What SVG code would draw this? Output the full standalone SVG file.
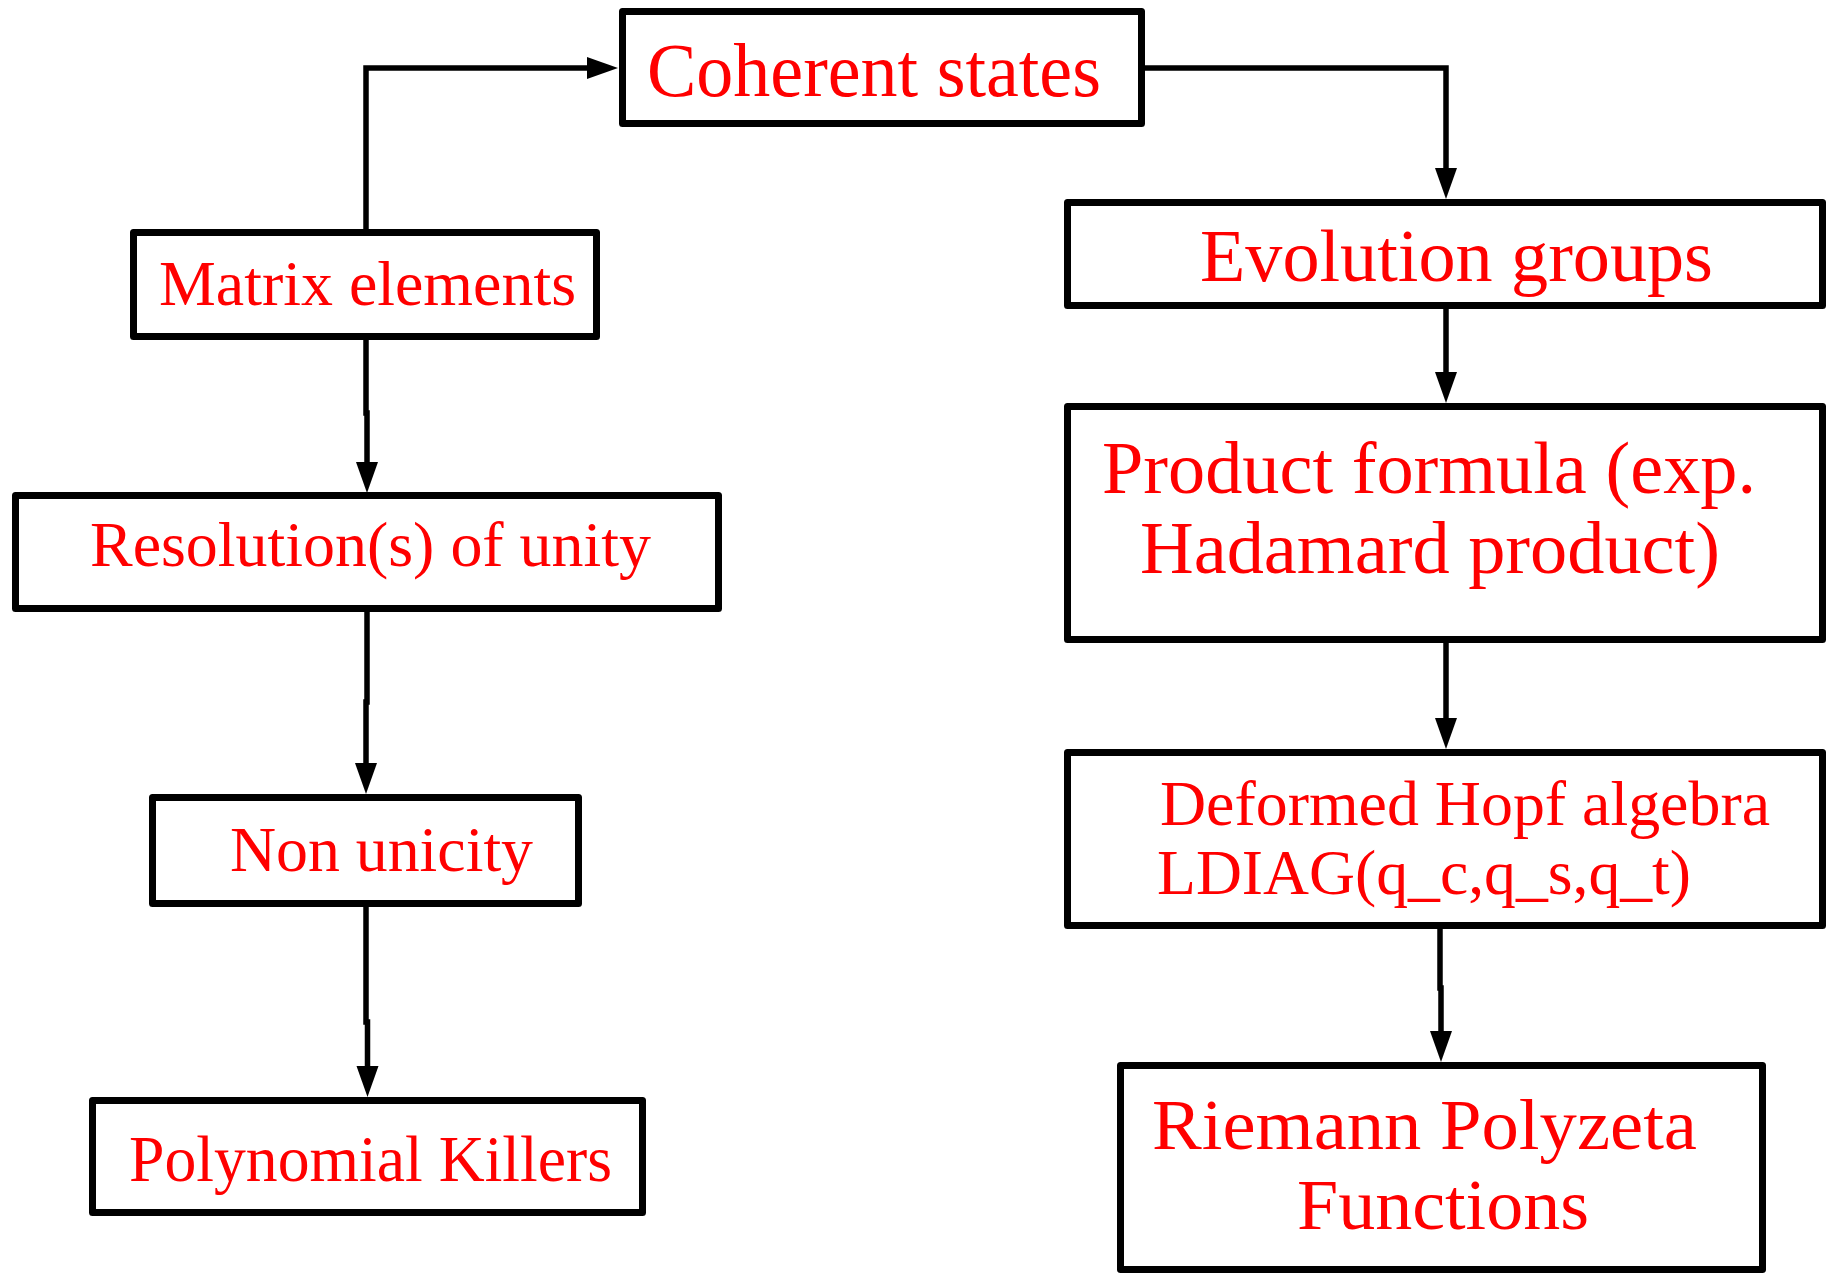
<svg xmlns="http://www.w3.org/2000/svg" width="1832" height="1273" viewBox="0 0 1832 1273">
<style>
.box{fill:#fff;stroke:#000;stroke-width:7;stroke-linejoin:round}
.lbl{fill:#ff0000;font-family:'Liberation Serif','Times New Roman',Times,serif;font-weight:normal}
.con{fill:none;stroke:#000;stroke-width:5.5;marker-end:url(#ah)}
</style>
<defs>
<marker id="ah" markerUnits="userSpaceOnUse" markerWidth="32" markerHeight="24" refX="0" refY="11" orient="auto" overflow="visible">
<path d="M0,0 L31,11 L0,22 z" fill="#000"/>
</marker>
</defs>
<rect width="1832" height="1273" fill="#fff"/>
<g id="connectors">
<path class="con" d="M366,229 V68 H587"/>
<path class="con" d="M1145,68 H1446 V168"/>
<path class="con" d="M1446,309 V372"/>
<path class="con" d="M1446,643 V718"/>
<path class="con" d="M1440,918 V988 H1441 V1031"/>
<path class="con" d="M366,340 V413 H367 V462"/>
<path class="con" d="M367,612 V702 H366 V763"/>
<path class="con" d="M366,907 V1022 H367.5 V1066"/>
</g>
<g id="coherent">
<rect class="box" x="622.5" y="11.5" width="519" height="112"/>
<text class="lbl" font-family="Liberation Serif" x="647" y="96" font-size="77" textLength="454" lengthAdjust="spacingAndGlyphs">Coherent states</text>
</g>
<g id="matrix">
<rect class="box" x="133.5" y="232.5" width="463" height="104"/>
<text class="lbl" font-family="Liberation Serif" x="159" y="305" font-size="64" textLength="417" lengthAdjust="spacingAndGlyphs">Matrix elements</text>
</g>
<g id="evolution">
<rect class="box" x="1067.5" y="202.5" width="755" height="103"/>
<text class="lbl" font-family="Liberation Serif" x="1200" y="281" font-size="75" textLength="513" lengthAdjust="spacingAndGlyphs">Evolution groups</text>
</g>
<g id="product">
<rect class="box" x="1067.5" y="406.5" width="755" height="233"/>
<text class="lbl" font-family="Liberation Serif" x="1102" y="493" font-size="73" textLength="654" lengthAdjust="spacingAndGlyphs">Product formula (exp.</text>
<text class="lbl" font-family="Liberation Serif" x="1140" y="573" font-size="73" textLength="580" lengthAdjust="spacingAndGlyphs">Hadamard product)</text>
</g>
<g id="deformed">
<rect class="box" x="1067.5" y="752.5" width="755" height="173"/>
<text class="lbl" font-family="Liberation Serif" x="1160" y="825" font-size="63" textLength="610" lengthAdjust="spacingAndGlyphs">Deformed Hopf algebra</text>
<text class="lbl" font-family="Liberation Serif" x="1157" y="894" font-size="63" textLength="534" lengthAdjust="spacingAndGlyphs">LDIAG(q_c,q_s,q_t)</text>
</g>
<g id="riemann">
<rect class="box" x="1120.5" y="1065.5" width="642" height="204"/>
<text class="lbl" font-family="Liberation Serif" x="1152" y="1149" font-size="71" textLength="545" lengthAdjust="spacingAndGlyphs">Riemann Polyzeta</text>
<text class="lbl" font-family="Liberation Serif" x="1297" y="1229" font-size="71" textLength="292" lengthAdjust="spacingAndGlyphs">Functions</text>
</g>
<g id="resolution">
<rect class="box" x="15.5" y="495.5" width="703" height="113"/>
<text class="lbl" font-family="Liberation Serif" x="90" y="566" font-size="63" textLength="561" lengthAdjust="spacingAndGlyphs">Resolution(s) of unity</text>
</g>
<g id="nonunicity">
<rect class="box" x="152.5" y="797.5" width="426" height="106"/>
<text class="lbl" font-family="Liberation Serif" x="230" y="871" font-size="64" textLength="303" lengthAdjust="spacingAndGlyphs">Non unicity</text>
</g>
<g id="polynomial">
<rect class="box" x="92.5" y="1100.5" width="550" height="112"/>
<text class="lbl" font-family="Liberation Serif" x="129" y="1181" font-size="65" textLength="483" lengthAdjust="spacingAndGlyphs">Polynomial Killers</text>
</g>
</svg>
